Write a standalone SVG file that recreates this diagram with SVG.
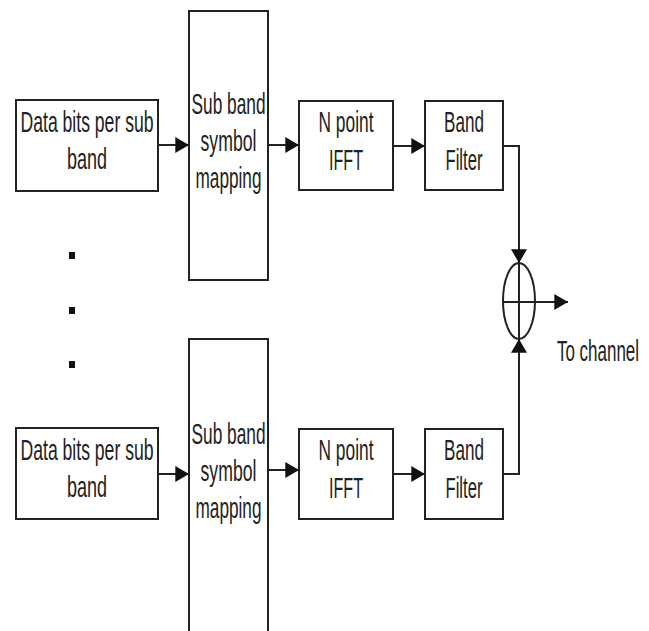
<svg xmlns="http://www.w3.org/2000/svg" width="649" height="631" viewBox="0 0 649 631">
<defs>
<marker id="ah" markerUnits="userSpaceOnUse" markerWidth="14" markerHeight="16" viewBox="0 0 12 14" refX="12" refY="7" orient="auto">
<path d="M0,0 L12,7 L0,14 Z" fill="#111"/>
</marker>
<style>
.box{fill:#fff;stroke:#222;stroke-width:2}
.ln{fill:none;stroke:#222;stroke-width:2}
.t{font-family:"Liberation Sans",Arial,sans-serif;font-size:30px;fill:#222;text-anchor:middle}
</style>
</defs>
<rect width="649" height="631" fill="#fff"/>
<g id="data1"><rect class="box" x="16" y="100" width="142" height="91"/>
<text class="t" x="87" y="132" textLength="133" lengthAdjust="spacingAndGlyphs">Data bits per sub</text>
<text class="t" x="87" y="169" textLength="40" lengthAdjust="spacingAndGlyphs">band</text></g>
<g id="map1"><rect class="box" x="189" y="11" width="79" height="269"/>
<text class="t" x="228.5" y="114" textLength="74" lengthAdjust="spacingAndGlyphs">Sub band</text>
<text class="t" x="228.5" y="151" textLength="56" lengthAdjust="spacingAndGlyphs">symbol</text>
<text class="t" x="228.5" y="188" textLength="66" lengthAdjust="spacingAndGlyphs">mapping</text></g>
<g id="ifft1"><rect class="box" x="299" y="101" width="94" height="89"/>
<text class="t" x="346" y="132" textLength="55" lengthAdjust="spacingAndGlyphs">N point</text>
<text class="t" x="346" y="170" textLength="34" lengthAdjust="spacingAndGlyphs">IFFT</text></g>
<g id="filt1"><rect class="box" x="425" y="101" width="78" height="89"/>
<text class="t" x="464" y="132" textLength="40" lengthAdjust="spacingAndGlyphs">Band</text>
<text class="t" x="464" y="170" textLength="37" lengthAdjust="spacingAndGlyphs">Filter</text></g>
<g id="dots"><rect x="69" y="252" width="6" height="7" fill="#111"/><rect x="69" y="307" width="6" height="7" fill="#111"/><rect x="69" y="361" width="6" height="7" fill="#111"/></g>
<g id="data2"><rect class="box" x="16" y="428" width="142" height="91"/>
<text class="t" x="87" y="460" textLength="133" lengthAdjust="spacingAndGlyphs">Data bits per sub</text>
<text class="t" x="87" y="497" textLength="40" lengthAdjust="spacingAndGlyphs">band</text></g>
<g id="map2"><rect class="box" x="189" y="339" width="79" height="310"/>
<text class="t" x="228.5" y="444" textLength="74" lengthAdjust="spacingAndGlyphs">Sub band</text>
<text class="t" x="228.5" y="481" textLength="56" lengthAdjust="spacingAndGlyphs">symbol</text>
<text class="t" x="228.5" y="518" textLength="66" lengthAdjust="spacingAndGlyphs">mapping</text></g>
<g id="ifft2"><rect class="box" x="299" y="429" width="94" height="90"/>
<text class="t" x="346" y="460" textLength="55" lengthAdjust="spacingAndGlyphs">N point</text>
<text class="t" x="346" y="498" textLength="34" lengthAdjust="spacingAndGlyphs">IFFT</text></g>
<g id="filt2"><rect class="box" x="425" y="429" width="78" height="90"/>
<text class="t" x="464" y="460" textLength="40" lengthAdjust="spacingAndGlyphs">Band</text>
<text class="t" x="464" y="498" textLength="37" lengthAdjust="spacingAndGlyphs">Filter</text></g>
<g id="sum"><ellipse class="ln" cx="519" cy="301" rx="16" ry="38"/>
<line class="ln" x1="519" y1="263" x2="519" y2="339"/>
<line class="ln" x1="503" y1="302" x2="535" y2="302"/></g>
<g id="label"><text class="t" x="598" y="361" textLength="82" lengthAdjust="spacingAndGlyphs">To channel</text></g>
<g id="connectors">
<line class="ln" x1="158" y1="145" x2="189" y2="145" marker-end="url(#ah)"/>
<line class="ln" x1="268" y1="145" x2="299" y2="145" marker-end="url(#ah)"/>
<line class="ln" x1="393" y1="146" x2="425" y2="146" marker-end="url(#ah)"/>
<path class="ln" d="M503,146 H519 V263" marker-end="url(#ah)"/>
<line class="ln" x1="158" y1="474" x2="189" y2="474" marker-end="url(#ah)"/>
<line class="ln" x1="268" y1="470" x2="299" y2="470" marker-end="url(#ah)"/>
<line class="ln" x1="393" y1="474" x2="425" y2="474" marker-end="url(#ah)"/>
<path class="ln" d="M503,474 H519 V339" marker-end="url(#ah)"/>
<line class="ln" x1="535" y1="302" x2="568" y2="302" marker-end="url(#ah)"/>
</g>
</svg>
